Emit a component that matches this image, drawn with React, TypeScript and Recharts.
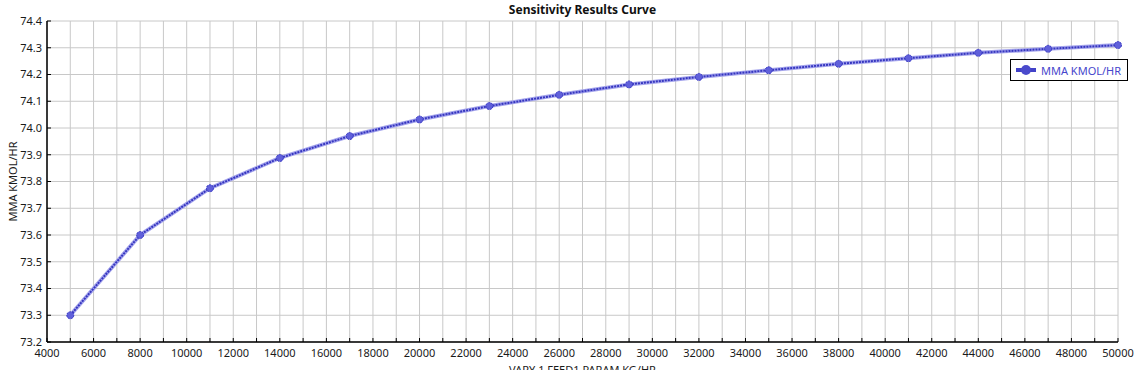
import React from "react";
import {
  LineChart,
  Line,
  XAxis,
  YAxis,
  CartesianGrid,
} from "recharts";

const FONT = "'Noto Sans', 'Open Sans', sans-serif";

// sensitivity variable (x) and MMA flow (y)
const varyValues = [
  5000, 8000, 11000, 14000, 17000, 20000, 23000, 26000,
  29000, 32000, 35000, 38000, 41000, 44000, 47000, 50000,
];
const mmaValues = [
  73.3, 73.6, 73.775, 73.888, 73.97, 74.032, 74.082, 74.124,
  74.163, 74.191, 74.216, 74.24, 74.261, 74.281, 74.296, 74.31,
];

const xTicks: number[] = [];
for (let v = 4000; v <= 50000; v += 1000) xTicks.push(v);
const yTicks = [73.2, 73.3, 73.4, 73.5, 73.6, 73.7, 73.8, 73.9, 74.0, 74.1, 74.2, 74.3, 74.4];

const data = varyValues.map((x, i) => ({ x, mma: mmaValues[i] }));

function LegendBox() {
  return (
    <div
      style={{
        position: "absolute",
        left: 1010,
        top: 59,
        border: "1px solid #000",
        background: "#fff",
        width: 116,
        height: 20,
        display: "flex",
        alignItems: "center",
        fontFamily: FONT,
        fontSize: 11,
        color: "#4646cc",
      }}
    >
      <svg width={28} height={20}>
        <line x1={5} y1={10} x2={25} y2={10} stroke="#4242c8" strokeWidth={4} />
        <circle cx={15} cy={10} r={5} fill="#4a4acc" />
      </svg>
      <span style={{ marginLeft: 2 }}>MMA KMOL/HR</span>
    </div>
  );
}

export default function App() {
  return (
    <div
      style={{
        position: "absolute",
        left: 0,
        top: 0,
        width: 1139,
        height: 370,
        background: "#fff",
        overflow: "hidden",
        fontFamily: FONT,
      }}
    >
      <div
        style={{
          position: "absolute",
          left: 47,
          width: 1071,
          top: 1,
          textAlign: "center",
          fontSize: 12,
          fontWeight: 700,
          color: "#111",
        }}
      >
        Sensitivity Results Curve
      </div>
      <LineChart
        width={1139}
        height={370}
        data={data}
        margin={{ top: 21, right: 21, bottom: 4, left: 0 }}
      >
        <CartesianGrid stroke="#c8c8c8" strokeWidth={1} verticalValues={xTicks} horizontalValues={yTicks} />
        <XAxis
          dataKey="x"
          type="number"
          domain={[4000, 50000]}
          ticks={xTicks}
          interval={0}
          height={24}
          tickSize={-4}
          tickMargin={11}
          tickFormatter={(v: number) => (v % 2000 === 0 ? String(v) : "")}
          tick={{ fontSize: 11, fill: "#1a1a1a", fontFamily: FONT }}
          axisLine={{ stroke: "#000", strokeWidth: 1.5 }}
          tickLine={{ stroke: "#000" }}
          label={{
            value: "VARY 1 FEED1 PARAM KG/HR",
            position: "bottom",
            offset: 0,
            fontSize: 11,
            fill: "#1a1a1a",
          }}
        />
        <YAxis
          type="number"
          domain={[73.2, 74.4]}
          ticks={yTicks}
          interval={0}
          width={47}
          tickSize={-4}
          tickMargin={9}
          allowDataOverflow
          tickFormatter={(v: number) => v.toFixed(1)}
          tick={{ fontSize: 11, fill: "#1a1a1a", fontFamily: FONT }}
          axisLine={{ stroke: "#000", strokeWidth: 1.5 }}
          tickLine={{ stroke: "#000" }}
          label={{
            content: ({ viewBox }: any) => {
              const cy = viewBox.y + viewBox.height / 2;
              return (
                <text
                  x={12}
                  y={cy}
                  transform={`rotate(-90, 12, ${cy})`}
                  textAnchor="middle"
                  dominantBaseline="central"
                  fontSize={11}
                  fill="#1a1a1a"
                  fontFamily={FONT}
                >
                  MMA KMOL/HR
                </text>
              );
            },
          }}
        />
        <Line
          dataKey="mma"
          type="linear"
          stroke="#a4a4ec"
          strokeWidth={4}
          dot={false}
          legendType="none"
          isAnimationActive={false}
        />
        <Line
          dataKey="mma"
          type="linear"
          stroke="#3636c0"
          strokeWidth={2}
          strokeDasharray="2 1"
          dot={{ r: 3.5, fill: "#6060da", stroke: "#3a3ac4", strokeWidth: 1 }}
          isAnimationActive={false}
        />
      </LineChart>
      <LegendBox />
    </div>
  );
}
